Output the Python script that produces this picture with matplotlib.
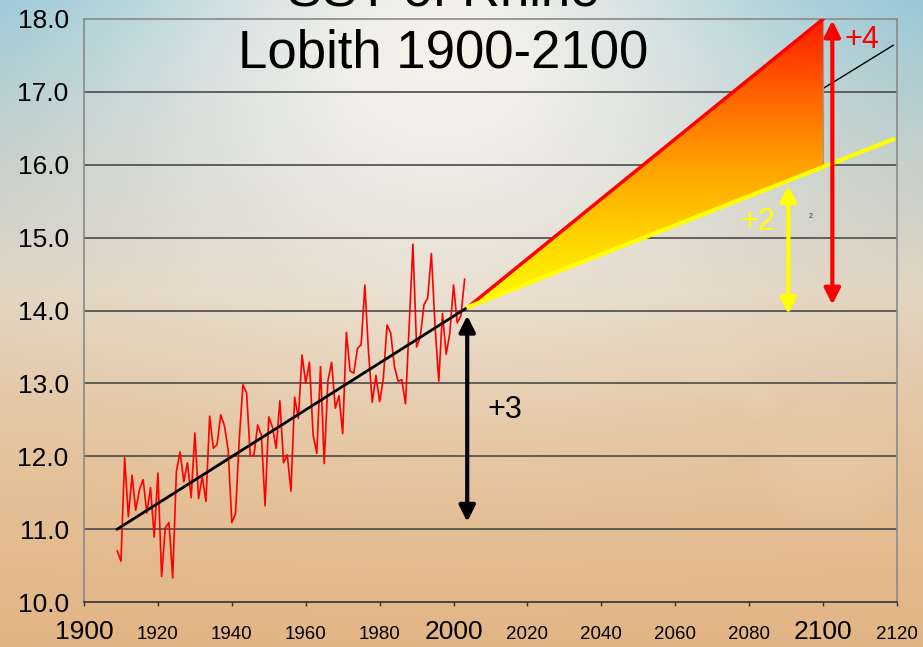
import numpy as np
import matplotlib.pyplot as plt
from matplotlib.colors import LinearSegmentedColormap
from matplotlib.patches import Polygon

plt.rcParams['font.family'] = ['Liberation Sans', 'DejaVu Sans']

# annual mean temperature at Lobith
years = np.arange(1909, 2004)
temps = [10.70, 10.56, 11.98, 11.17, 11.74, 11.26, 11.54, 11.68, 11.22, 11.57,
         10.89, 11.77, 10.35, 11.02, 11.09, 10.33, 11.79, 12.06, 11.65, 11.91,
         11.43, 12.32, 11.42, 11.72, 11.38, 12.55, 12.11, 12.16, 12.57, 12.42,
         12.09, 11.09, 11.21, 12.22, 12.98, 12.87, 12.00, 12.02, 12.43, 12.29,
         11.32, 12.54, 12.40, 12.11, 12.76, 11.91, 12.02, 11.52, 12.81, 12.52,
         13.39, 13.00, 13.29, 12.29, 12.04, 13.23, 11.90, 13.03, 13.29, 12.66,
         12.83, 12.31, 13.70, 13.17, 13.14, 13.48, 13.53, 14.35, 13.42, 12.74,
         13.11, 12.75, 13.07, 13.80, 13.69, 13.23, 13.03, 13.05, 12.72, 13.80,
         14.91, 13.50, 13.64, 14.08, 14.17, 14.78, 13.78, 13.03, 13.96, 13.40,
         13.69, 14.35, 13.83, 13.93, 14.43]

# linear trend and its extension
trend_years = [1909, 2004]
trend_temps = [11.0, 14.05]
ext_years = [2004, 2119]
ext_temps = [14.05, 17.64]

# scenario bounds
high_years = [2004, 2100]
high_temps = [14.05, 18.0]
low_years = [2004, 2119]
low_temps = [14.05, 16.35]

# (x, bottom, top, label, label_x, label_y, colour)
arrows = [
    (2003.7, 11.10, 13.93, '+3', 2013.9, 12.64, 'black'),
    (2090.6, 13.95, 15.72, '+2', 2082.4, 15.22, '#ffff00'),
    (2102.5, 14.08, 17.98, '+4', 2110.6, 17.71, 'red'),
]

big_ticks = [1900, 2000, 2100]
small_ticks = [1920, 1940, 1960, 1980, 2020, 2040, 2060, 2080, 2120]
yticks = list(range(10, 19))

W, H = 923, 647
fig = plt.figure(figsize=(W / 100, H / 100), dpi=100)

# sky / desert backdrop
yy, xx = np.mgrid[0:H, 0:W].astype(float)
t = yy / H
stops_t = [0.0, 0.25, 0.45, 0.7, 1.0]
stops_c = np.array([[140, 194, 212], [192, 204, 198], [224, 210, 190],
                    [228, 194, 154], [226, 180, 132]], float)
bg = np.stack([np.interp(t, stops_t, stops_c[:, k]) for k in range(3)], axis=-1)
glow = np.exp(-((xx - 440) ** 2 / (2 * 240 ** 2) + (yy - 50) ** 2 / (2 * 190 ** 2)))
sun = np.array([250, 244, 236], float)
bg = bg * (1 - 0.95 * glow[..., None]) + sun * 0.95 * glow[..., None]
for cx, cy, r in [(715, 350, 50), (830, 465, 72), (760, 400, 20)]:
    d = np.hypot(xx - cx, yy - cy) / r
    w = np.clip(1 - d, 0, 1) ** 0.5 * 0.12
    bg = bg * (1 - w[..., None]) + np.array([248, 226, 200]) * w[..., None]
bg_ax = fig.add_axes([0, 0, 1, 1], zorder=-10)
bg_ax.imshow(np.clip(bg, 0, 255).astype(np.uint8), aspect='auto')
bg_ax.axis('off')

ax = fig.add_axes([84 / W, 1 - 602 / H, (897 - 84) / W, (602 - 19) / H])
ax.set_facecolor('none')

for y in yticks[1:-1]:
    ax.axhline(y, color='#4a4a4a', lw=1.2, zorder=1)

ax.plot(years, temps, color='red', lw=1.2, zorder=3)
ax.plot(trend_years, trend_temps, color='black', lw=2, zorder=4)
ax.plot(ext_years, ext_temps, color='black', lw=1, zorder=2)

# projection fan, red on top fading to yellow
low_2100 = np.interp(2100, low_years, low_temps)
fan = Polygon([(high_years[0], high_temps[0]), (2100, high_temps[1]), (2100, low_2100)],
              closed=True, facecolor='none', edgecolor='none')
ax.add_patch(fan)
cmap = LinearSegmentedColormap.from_list(
    'fan', [(0.0, '#ffff00'), (0.25, '#ffd400'), (0.5, '#ffa000'),
            (0.75, '#ff6000'), (1.0, '#ff1a00')])
grad = np.linspace(0, 1, 256).reshape(-1, 1)
im = ax.imshow(grad, cmap=cmap, origin='lower', aspect='auto',
               extent=[2004, 2100, 14.0, 18.0], zorder=5)
im.set_clip_path(fan)
ax.plot([2100, 2100], [low_2100, high_temps[1]], color='#9a9a9a', lw=0.8, zorder=5)
ax.plot(high_years, high_temps, color='red', lw=2.5, zorder=6)
ax.plot(low_years, low_temps, color='#ffff00', lw=3, zorder=6)
ax.set_xlim(1900, 2120)
ax.set_ylim(10, 18)

for x, y0, y1, label, lx, ly, col in arrows:
    ax.annotate('', xy=(x, y1), xytext=(x, y0),
                arrowprops=dict(arrowstyle='<|-|>', color=col, lw=3,
                                mutation_scale=24, shrinkA=0, shrinkB=0),
                zorder=7)
    ax.text(lx, ly, label, color=col, fontsize=22, ha='center', va='center', zorder=7)

ax.text(2096.6, 15.29, '2', fontsize=5, color='#333333', ha='center', va='center')

ax.set_yticks(yticks)
ax.set_yticklabels([f'{v:.1f}' for v in yticks], fontsize=19)
ax.tick_params(axis='y', which='both', length=0, pad=11)

# century years get large labels, the rest small ones
ax.set_xticks(big_ticks)
ax.set_xticklabels([str(v) for v in big_ticks], fontsize=19)
ax.set_xticks(small_ticks, minor=True)
ax.set_xticklabels([str(v) for v in small_ticks], minor=True, fontsize=13.5)
ax.tick_params(axis='x', which='major', length=3, width=1, direction='out',
               pad=10, color='#333333')
ax.tick_params(axis='x', which='minor', length=3, width=1, direction='out',
               pad=14, color='#333333')

for side in ['left', 'top', 'right']:
    ax.spines[side].set_color('#8a8a8a')
    ax.spines[side].set_linewidth(1.2)
ax.spines['bottom'].set_color('#333333')
ax.spines['bottom'].set_linewidth(1.2)

fig.text(443 / W, 1 - 67 / H, 'Lobith 1900-2100', fontsize=38, ha='center', va='baseline')
fig.text(443 / W, 1 - 5 / H, 'SST of Rhine', fontsize=38, ha='center', va='baseline')

fig.savefig('out.png', dpi=100)
